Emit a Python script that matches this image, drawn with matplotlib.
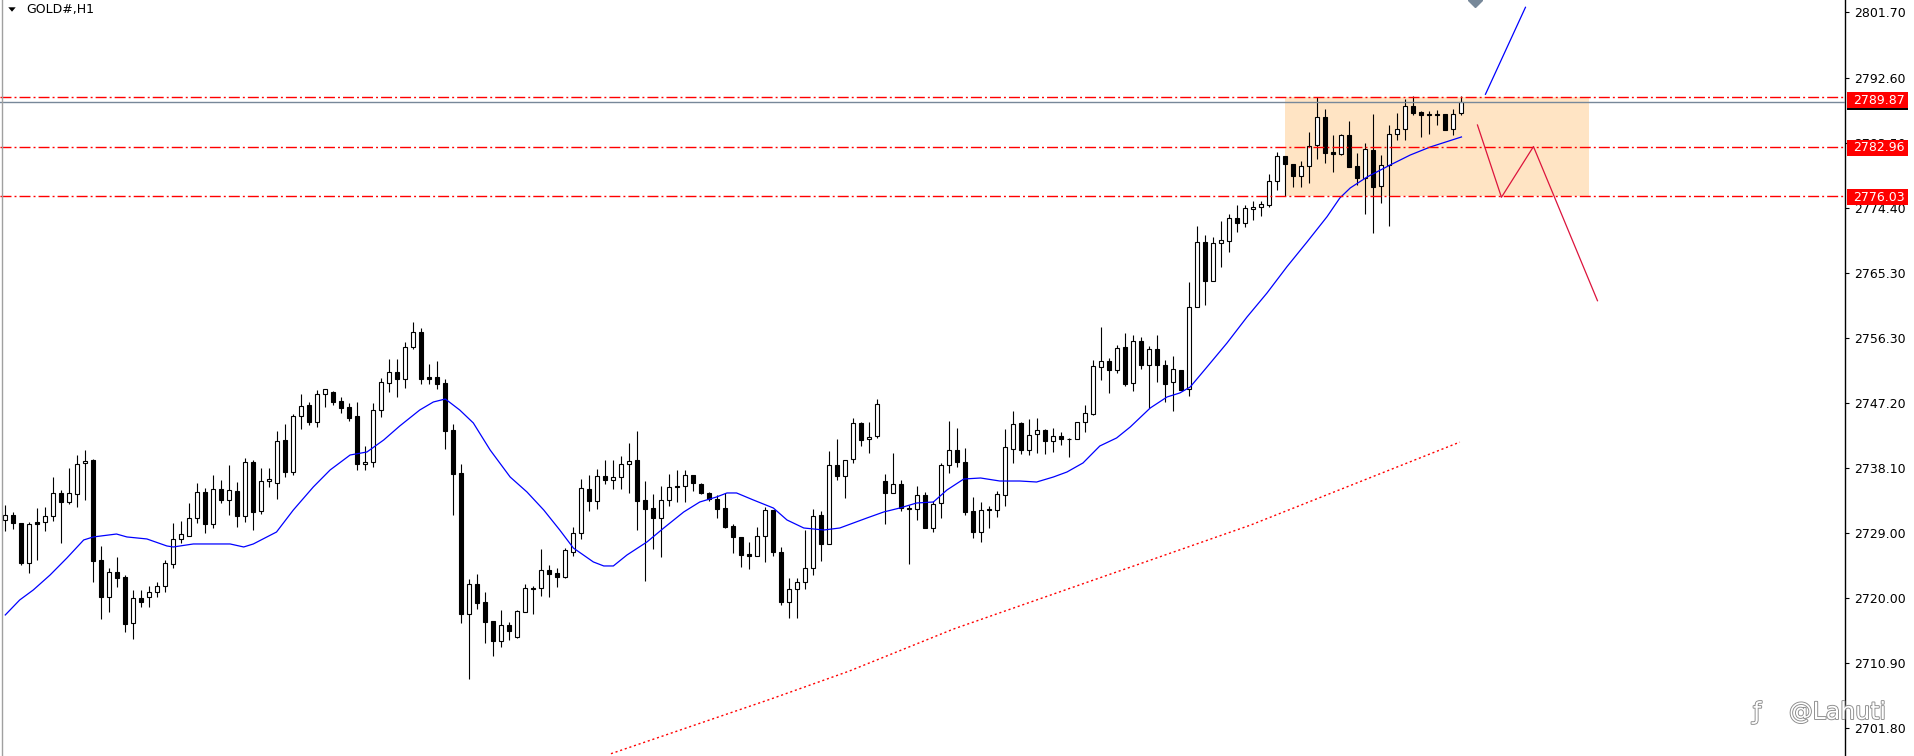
import matplotlib
matplotlib.use("Agg")
import matplotlib.pyplot as plt
from matplotlib.patches import Rectangle, Polygon
from matplotlib.lines import Line2D
from matplotlib.transforms import blended_transform_factory
import matplotlib.patheffects as pe
import numpy as np

symbol = "GOLD#,H1"
watermark = "@Lahuti"

# hourly candles (oldest first)
opens = [
    2730.83, 2731.48, 2730.41, 2724.78, 2730.51, 2730.51, 2731.35, 2734.56, 2733.30, 2734.42,
    2738.74, 2739.20, 2725.20, 2720.12, 2723.53, 2722.87, 2716.41, 2719.90, 2720.04, 2720.74,
    2721.57, 2724.64, 2728.13, 2728.64, 2731.07, 2734.74, 2730.31, 2735.11, 2733.58, 2734.88,
    2731.43, 2738.88, 2732.04, 2736.23, 2735.95, 2742.00, 2737.57, 2745.39, 2746.84, 2744.55,
    2748.38, 2748.66, 2747.44, 2746.60, 2745.30, 2738.60, 2738.88, 2746.14, 2749.91, 2751.49,
    2750.47, 2754.94, 2757.03, 2750.79, 2750.79, 2749.95, 2743.39, 2737.39, 2717.75, 2721.85,
    2719.34, 2716.73, 2713.98, 2716.17, 2714.45, 2718.03, 2721.34, 2721.29, 2723.81, 2723.39,
    2722.91, 2726.40, 2728.97, 2735.16, 2733.44, 2736.93, 2736.45, 2736.79, 2738.60, 2739.16,
    2733.58, 2732.46, 2731.15, 2733.58, 2735.53, 2735.53, 2737.11, 2735.85, 2734.56, 2733.72,
    2732.46, 2729.95, 2728.41, 2726.08, 2725.84, 2728.55, 2732.18, 2726.40, 2719.42, 2721.24,
    2722.22, 2724.17, 2731.57, 2727.52, 2738.51, 2737.01, 2739.30, 2744.33, 2742.09, 2742.60,
    2736.27, 2734.56, 2735.85, 2732.50, 2732.32, 2734.28, 2729.67, 2733.16, 2738.46, 2740.56,
    2738.93, 2732.08, 2729.20, 2732.36, 2732.22, 2734.28, 2740.78, 2744.33, 2740.64, 2742.79,
    2743.35, 2741.90, 2742.51, 2742.14, 2742.09, 2744.47, 2745.67, 2752.15, 2752.98, 2751.73,
    2754.98, 2749.91, 2755.77, 2752.42, 2754.66, 2752.47, 2750.05, 2751.73, 2749.07, 2760.52,
    2769.60, 2764.23, 2769.46, 2769.73, 2772.95, 2772.25, 2774.20, 2774.48, 2774.80, 2778.11,
    2781.60, 2780.48, 2778.89, 2780.20, 2783.14, 2787.05, 2782.20, 2781.88, 2784.53, 2780.20,
    2778.53, 2782.48, 2777.50, 2780.34, 2784.67, 2785.37, 2788.58, 2787.79, 2787.46, 2787.55,
    2787.55, 2785.45, 2787.60,
]
highs = [
    2732.92, 2731.95, 2730.41, 2730.59, 2732.46, 2732.60, 2736.79, 2735.02, 2738.05, 2739.90,
    2740.60, 2739.39, 2727.20, 2724.09, 2725.71, 2723.19, 2721.06, 2721.06, 2721.66, 2722.22,
    2725.24, 2730.37, 2730.69, 2733.24, 2736.04, 2735.25, 2737.11, 2736.41, 2738.51, 2736.18,
    2739.53, 2739.20, 2738.05, 2738.05, 2743.25, 2744.23, 2745.63, 2748.42, 2747.26, 2748.98,
    2749.07, 2748.88, 2748.04, 2747.12, 2747.26, 2741.16, 2747.12, 2750.61, 2753.26, 2753.26,
    2755.68, 2758.43, 2757.59, 2752.56, 2753.02, 2750.51, 2744.23, 2738.60, 2722.55, 2723.29,
    2720.78, 2716.73, 2718.26, 2716.63, 2718.26, 2721.89, 2721.61, 2726.78, 2724.50, 2724.09,
    2726.96, 2729.81, 2736.55, 2737.11, 2737.91, 2739.20, 2739.20, 2739.72, 2741.54, 2743.25,
    2736.23, 2734.42, 2735.53, 2737.21, 2737.85, 2737.81, 2737.11, 2736.04, 2734.78, 2734.32,
    2734.56, 2730.27, 2728.41, 2727.72, 2729.81, 2732.60, 2732.27, 2727.02, 2722.69, 2722.69,
    2729.43, 2732.41, 2732.13, 2740.50, 2742.09, 2739.25, 2745.11, 2744.47, 2744.47, 2747.68,
    2737.21, 2740.18, 2736.41, 2732.92, 2735.57, 2734.74, 2733.48, 2738.83, 2744.65, 2743.63,
    2740.88, 2734.04, 2733.34, 2732.82, 2734.84, 2743.49, 2746.04, 2744.47, 2744.93, 2745.03,
    2743.57, 2743.63, 2743.07, 2742.23, 2744.47, 2746.88, 2753.16, 2757.81, 2753.40, 2755.22,
    2756.93, 2756.61, 2756.42, 2755.16, 2756.65, 2753.16, 2753.72, 2751.73, 2764.05, 2771.87,
    2770.61, 2770.29, 2772.57, 2773.50, 2774.80, 2774.80, 2775.36, 2775.36, 2779.13, 2782.24,
    2781.60, 2780.48, 2780.94, 2784.95, 2789.92, 2788.16, 2784.57, 2784.71, 2786.53, 2782.02,
    2783.42, 2787.51, 2781.74, 2785.93, 2787.69, 2789.56, 2790.02, 2787.97, 2787.97, 2788.06,
    2787.55, 2788.20, 2790.02,
]
lows = [
    2729.33, 2729.61, 2724.50, 2723.47, 2725.24, 2729.33, 2730.73, 2727.66, 2733.02, 2732.69,
    2733.62, 2722.22, 2716.97, 2718.03, 2721.52, 2715.24, 2714.17, 2718.73, 2718.73, 2720.12,
    2720.78, 2724.09, 2727.66, 2728.64, 2730.37, 2728.97, 2729.67, 2733.16, 2731.53, 2729.81,
    2730.51, 2729.43, 2731.62, 2735.39, 2733.80, 2736.79, 2737.15, 2743.57, 2744.05, 2743.85,
    2746.65, 2746.92, 2745.81, 2744.69, 2737.81, 2737.81, 2738.27, 2745.25, 2748.74, 2748.04,
    2749.30, 2754.66, 2749.86, 2749.77, 2749.16, 2740.78, 2731.53, 2716.49, 2708.63, 2718.45,
    2713.70, 2711.84, 2713.14, 2714.08, 2714.31, 2718.03, 2717.71, 2720.22, 2720.12, 2721.43,
    2722.77, 2725.84, 2728.18, 2732.13, 2732.36, 2735.81, 2735.16, 2735.16, 2734.56, 2729.43,
    2722.35, 2726.78, 2725.71, 2732.82, 2733.38, 2733.38, 2734.92, 2734.46, 2733.52, 2731.15,
    2729.75, 2726.18, 2724.31, 2723.95, 2725.84, 2725.01, 2725.84, 2718.92, 2717.11, 2717.19,
    2721.24, 2723.15, 2725.15, 2727.52, 2736.41, 2733.94, 2738.74, 2741.20, 2740.22, 2742.32,
    2730.23, 2734.56, 2732.13, 2724.64, 2730.79, 2729.67, 2729.20, 2731.15, 2737.43, 2738.19,
    2731.53, 2728.36, 2727.80, 2729.75, 2731.21, 2732.82, 2738.83, 2740.04, 2739.94, 2740.22,
    2740.08, 2740.36, 2741.34, 2739.67, 2742.09, 2743.15, 2745.53, 2750.37, 2748.60, 2751.31,
    2749.58, 2748.88, 2751.95, 2746.46, 2750.09, 2747.34, 2746.00, 2749.02, 2748.18, 2760.52,
    2760.84, 2764.15, 2766.19, 2768.20, 2770.99, 2771.77, 2772.71, 2773.27, 2774.56, 2776.90,
    2776.02, 2777.27, 2777.36, 2777.92, 2781.18, 2780.62, 2779.45, 2781.78, 2780.15, 2777.59,
    2773.59, 2770.85, 2775.12, 2771.91, 2783.88, 2783.88, 2787.32, 2784.34, 2784.71, 2785.97,
    2785.23, 2784.62, 2787.32,
]
closes = [
    2731.48, 2730.37, 2724.78, 2730.23, 2730.31, 2731.35, 2734.56, 2733.38, 2734.56, 2738.60,
    2739.06, 2725.15, 2720.12, 2723.53, 2722.77, 2716.35, 2719.90, 2719.42, 2720.74, 2721.57,
    2724.78, 2728.13, 2728.83, 2731.07, 2734.70, 2730.31, 2735.11, 2733.58, 2735.02, 2731.43,
    2738.88, 2731.99, 2736.27, 2736.51, 2741.81, 2737.57, 2745.35, 2746.70, 2744.55, 2748.38,
    2749.07, 2747.34, 2746.51, 2745.11, 2738.60, 2738.93, 2746.14, 2750.05, 2751.49, 2750.47,
    2754.94, 2757.03, 2750.55, 2750.55, 2749.86, 2743.29, 2737.29, 2717.75, 2721.85, 2719.28,
    2716.59, 2713.98, 2716.17, 2715.37, 2718.12, 2721.29, 2721.15, 2723.81, 2723.33, 2722.91,
    2726.60, 2728.97, 2735.25, 2733.52, 2736.93, 2736.45, 2736.79, 2738.60, 2739.02, 2733.52,
    2732.41, 2731.15, 2733.58, 2735.39, 2735.50, 2737.07, 2735.95, 2734.56, 2733.72, 2732.41,
    2729.89, 2728.41, 2725.94, 2725.84, 2728.55, 2732.18, 2726.40, 2719.42, 2721.24, 2722.22,
    2724.17, 2731.43, 2727.52, 2738.51, 2737.01, 2739.25, 2744.33, 2742.00, 2742.46, 2746.98,
    2734.56, 2735.81, 2732.46, 2732.32, 2734.28, 2729.67, 2733.02, 2738.46, 2740.56, 2738.88,
    2731.99, 2729.20, 2732.18, 2732.18, 2734.42, 2740.98, 2744.19, 2740.64, 2742.65, 2743.35,
    2741.90, 2742.51, 2742.18, 2742.12, 2744.47, 2745.72, 2752.33, 2752.98, 2751.73, 2754.84,
    2749.86, 2755.77, 2752.42, 2754.66, 2752.42, 2749.86, 2751.87, 2749.02, 2760.52, 2769.60,
    2764.23, 2769.46, 2769.87, 2772.95, 2772.25, 2774.38, 2774.52, 2774.90, 2778.11, 2781.60,
    2780.48, 2778.89, 2780.20, 2783.08, 2787.05, 2782.10, 2781.88, 2784.53, 2780.15, 2778.53,
    2782.58, 2777.36, 2780.34, 2784.67, 2785.37, 2788.58, 2787.69, 2787.32, 2787.39, 2787.32,
    2785.31, 2787.55, 2789.14,
]

# fast moving average (blue), sampled along the curve: bar index -> price
ma_bar = [0, 1.8, 3.5, 5.6, 7.7, 9.8, 11, 13.9, 15.2, 17.7, 20.2, 21, 23.5, 28.1, 29.8, 31,
          32.7, 33.9, 36, 38.5, 40.6, 43.1, 45.2, 47.3, 49.3, 51.8, 53.5, 55, 56.8, 58.5,
          60.6, 63.1, 65.2, 67.3, 69.3, 71, 73.5, 74.8, 76, 77.7, 80.2, 82.3, 84.8, 86.8,
          88.9, 90.2, 91.4, 93.5, 96, 97.7, 99.8, 102.3, 104.3, 107.7, 109.8, 111.8, 113.9,
          116, 117.7, 119.8, 121.9, 124.3, 126.8, 128.9, 131, 132.7, 134.7, 136.8, 138.9,
          140.6, 143.1, 145.2, 146.8, 148.1, 150.2, 152.7, 155.2, 157.7, 160.2, 162.7, 165.2,
          166.8, 168.1, 170.2, 173.1, 175.6, 178.1, 182]
ma_val = [2717.57, 2719.66, 2721.06, 2723.15, 2725.52, 2728.04, 2728.46, 2728.87, 2728.46,
          2728.18, 2727.20, 2727.06, 2727.48, 2727.48, 2727.06, 2727.48, 2728.46, 2729.15,
          2732.22, 2735.44, 2737.81, 2739.90, 2740.32, 2742.00, 2743.95, 2746.18, 2747.30,
          2747.72, 2746.18, 2744.37, 2740.60, 2736.83, 2734.74, 2732.22, 2729.43, 2726.92,
          2724.97, 2724.41, 2724.41, 2725.94, 2727.76, 2729.71, 2731.95, 2733.34, 2734.04,
          2734.60, 2734.60, 2733.62, 2732.50, 2730.83, 2729.71, 2729.43, 2729.71, 2731.11,
          2731.95, 2732.50, 2733.20, 2733.34, 2735.02, 2736.55, 2736.69, 2736.27, 2736.27,
          2736.13, 2736.83, 2737.53, 2738.79, 2741.16, 2742.28, 2743.81, 2746.46, 2748.00,
          2748.56, 2749.40, 2752.19, 2755.54, 2759.17, 2762.52, 2766.20, 2769.64, 2773.17,
          2775.78, 2777.18, 2778.71, 2780.39, 2781.78, 2782.90, 2784.30]

# slow moving average (red dotted)
slow_bar = [75.7, 95.6, 105.4, 118.5, 155.6, 181.8]
slow_val = [2698.2, 2705.8, 2709.7, 2715.6, 2730.1, 2741.7]

levels = [2789.87, 2782.96, 2776.03]
bid = closes[-1]

box_bars = [160, 198]
box_prices = [2776.03, 2789.87]

# hand-drawn scenario lines
up_bar = [185, 190]
up_val = [2790.26, 2802.40]
down_bar = [184, 187, 191, 199]
down_val = [2785.97, 2775.88, 2782.96, 2761.44]

tick_vals = [2801.70, 2792.60, 2783.50, 2774.40, 2765.30, 2756.30,
             2747.20, 2738.10, 2729.00, 2720.00, 2710.90, 2701.80]

W, H = 1915, 756
fig = plt.figure(figsize=(W / 100, H / 100), dpi=100)
fig.patch.set_facecolor("white")
ax = fig.add_axes([0, 0, 1845.5 / W, 1])
ax.set_xlim(-0.66, 230.0)
ax.set_ylim(2697.88, 2803.42)

# zone
ax.add_patch(Rectangle((box_bars[0], box_prices[0]), box_bars[1] - box_bars[0],
                       box_prices[1] - box_prices[0], facecolor="bisque",
                       edgecolor="none", zorder=1))

# candles
o = np.array(opens)
c = np.array(closes)
x = np.arange(len(o))
up = c >= o
ax.vlines(x, lows, highs, color="black", lw=0.8, zorder=3)
ax.bar(x[up], (c - o)[up], bottom=o[up], width=0.5, facecolor="white",
       edgecolor="black", lw=0.8, zorder=4)
ax.bar(x[~up], (o - c)[~up], bottom=c[~up], width=0.5, facecolor="black",
       edgecolor="black", lw=0.8, zorder=4)

# indicators
ax.plot(ma_bar, ma_val, color="#0000ff", lw=0.9, zorder=5)
ax.plot(slow_bar, slow_val, color="#ff0000", lw=1.0, ls=(0, (1.5, 2)), zorder=2)

# levels and bid line
for lv in levels:
    ax.axhline(lv, color="#ff0000", lw=1.0, ls=(0, (7.9, 2.2, 1.4, 2.2)), zorder=6)
ax.axhline(bid, color="#778899", lw=1.0, zorder=6)

ax.plot(up_bar, up_val, color="#0000ff", lw=0.9, zorder=6)
ax.plot(down_bar, down_val, color="#dc143c", lw=0.9, zorder=6)
ax.plot([183.7], [2803.42], marker="D", ms=7, color="#778899", zorder=6)

# axis
for s in ["top", "bottom", "left"]:
    ax.spines[s].set_visible(False)
ax.spines["right"].set_color("black")
ax.spines["right"].set_linewidth(1.0)
ax.set_xticks([])
ax.yaxis.tick_right()
ax.set_yticks(tick_vals)
ax.set_yticklabels([f"{v:.2f}" for v in tick_vals])
ax.tick_params(axis="y", direction="out", length=3, width=0.8, pad=3,
               labelsize=9, colors="black")

# price labels on the scale
tr = blended_transform_factory(ax.transAxes, ax.transData)
px = 1 / 1845.5
box_h = 16 / 7.164
ax.add_patch(Rectangle((1 + 1.5 * px, bid - box_h / 2), 61 * px, box_h,
                       transform=tr, facecolor="black", edgecolor="none",
                       clip_on=False, zorder=7))
for lv in levels:
    yc = lv - (0.45 if lv == levels[0] else 0.15)
    ax.add_patch(Rectangle((1 + 1.5 * px, yc - box_h / 2), 61 * px, box_h,
                           transform=tr, facecolor="#ff0000", edgecolor="none",
                           clip_on=False, zorder=8))
    ax.text(1 + 7.5 * px, yc, f"{lv:.2f}", transform=tr, color="white",
            fontsize=9, va="center", ha="left", clip_on=False, zorder=9)

# window frame and title
fig.add_artist(Line2D([2.5 / W, 2.5 / W], [0, 1], transform=fig.transFigure,
                      color="#a0a0a0", lw=1.0))
fig.add_artist(Polygon([[8.3 / W, 1 - 7.3 / H], [15.7 / W, 1 - 7.3 / H],
                        [12 / W, 1 - 11.7 / H]], closed=True,
                       transform=fig.transFigure, facecolor="black",
                       edgecolor="none"))
fig.text(26 / W, 1 - 9.5 / H, symbol, fontsize=9, color="black", va="center")

# watermark
halo = [pe.withStroke(linewidth=1.3, foreground="#8a8a8a")]
fig.text(1789 / W, 1 - 712 / H, watermark, fontsize=17, color="white",
         va="center", ha="left", path_effects=halo, zorder=10)
fig.text(1753 / W, 1 - 712 / H, "ƒ", fontsize=17, color="white",
         va="center", ha="left", path_effects=halo, zorder=10)

fig.savefig("out.png", dpi=100, facecolor="white")
